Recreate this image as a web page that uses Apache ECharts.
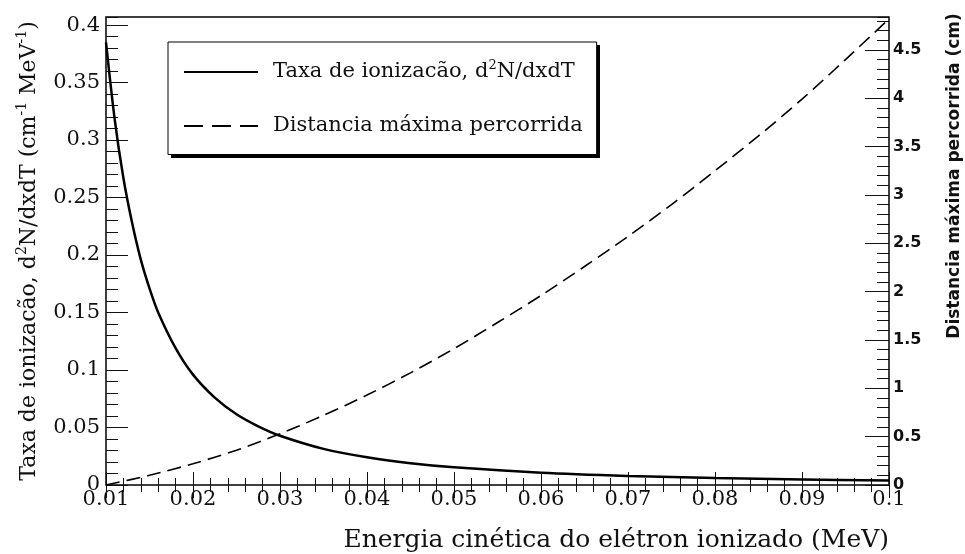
<!DOCTYPE html>
<html>
<head>
<meta charset="utf-8">
<title>Taxa de ionizacão</title>
<script src="https://cdn.jsdelivr.net/npm/echarts@6/dist/echarts.min.js"></script>
<style>
  html, body { margin: 0; padding: 0; background: #fff; }
  #chart { width: 965px; height: 554px; }
</style>
</head>
<body>
<div id="chart"></div>
<script>
// energia cinetica (MeV) e taxa de ionizacao d2N/dxdT (cm^-1 MeV^-1)
const rateEnergy = [0.010, 0.011, 0.012, 0.013, 0.014, 0.015, 0.016, 0.018, 0.020, 0.0225, 0.025, 0.0275,
  0.030, 0.035, 0.040, 0.045, 0.050, 0.060, 0.070, 0.080, 0.090, 0.100]
const rateValues = [0.385, 0.318, 0.267, 0.228, 0.196, 0.171, 0.150, 0.119, 0.096, 0.076, 0.0615, 0.051,
  0.0428, 0.0314, 0.0241, 0.019, 0.0154, 0.0107, 0.0079, 0.006, 0.0048, 0.0039]

// distancia maxima percorrida (cm)
const rangeEnergy = [0.010, 0.015, 0.020, 0.025, 0.030, 0.035, 0.040, 0.045, 0.050, 0.055, 0.060,
  0.065, 0.070, 0.075, 0.080, 0.085, 0.090, 0.095, 0.100]
const rangeValues = [0.0, 0.10, 0.22, 0.36, 0.53, 0.72, 0.93, 1.16, 1.41, 1.68, 1.96,
  2.26, 2.57, 2.90, 3.25, 3.61, 3.99, 4.40, 4.82]

const rateName = 'Taxa de ionizacão, d2N/dxdT'
const rangeName = 'Distancia máxima percorrida'

const serif = 'DejaVu Serif'
const sans = 'DejaVu Sans'
const ink = '#111'

const chart = echarts.init(document.getElementById('chart'))

const tickAxis = (extra) => Object.assign({
  type: 'value',
  axisLine: { show: false },
  splitLine: { show: false },
  axisTick: { inside: true, lineStyle: { color: ink, width: 1 } },
  axisLabel: { show: false }
}, extra)

const option = {
  backgroundColor: '#fff',
  animation: false,
  grid: {
    left: 106,
    right: 76,
    top: 17,
    bottom: 69,
    show: true,
    borderColor: '#000',
    borderWidth: 1.5,
    backgroundColor: 'transparent'
  },
  xAxis: [
    tickAxis({
      position: 'bottom',
      min: 0.01,
      max: 0.1,
      interval: 0.01,
      axisTick: { inside: true, length: 13, lineStyle: { color: ink } },
      minorTick: { show: true, splitNumber: 5, length: 7, lineStyle: { color: ink } },
      axisLabel: {
        show: true,
        margin: 4,
        fontFamily: serif,
        fontSize: 21,
        color: ink,
        hideOverlap: false
      }
    }),
    tickAxis({
      position: 'top',
      min: 0.01,
      max: 0.1,
      interval: 0.01,
      axisTick: { inside: true, length: 13, lineStyle: { color: ink } },
      minorTick: { show: true, splitNumber: 5, length: 7, lineStyle: { color: ink } }
    })
  ],
  yAxis: [
    // eixo esquerdo, marcas principais
    tickAxis({
      position: 'left',
      min: 0,
      max: 0.407,
      interval: 0.05,
      axisTick: { inside: true, length: 22, lineStyle: { color: ink } },
      axisLabel: {
        show: true,
        margin: 6,
        showMaxLabel: false,
        fontFamily: serif,
        fontSize: 21,
        color: ink
      }
    }),
    // eixo esquerdo, marcas menores
    tickAxis({
      position: 'left',
      min: 0,
      max: 0.407,
      interval: 0.01,
      axisTick: { inside: true, length: 12, lineStyle: { color: ink } }
    }),
    // eixo direito, marcas principais
    tickAxis({
      position: 'right',
      min: 0,
      max: 4.84,
      interval: 0.5,
      axisTick: { inside: true, length: 24, lineStyle: { color: ink } },
      axisLabel: {
        show: true,
        margin: 4,
        showMaxLabel: false,
        fontFamily: sans,
        fontWeight: 'bold',
        fontSize: 16,
        color: ink
      }
    }),
    // eixo direito, marcas menores
    tickAxis({
      position: 'right',
      min: 0,
      max: 4.84,
      interval: 0.1,
      axisTick: { inside: true, length: 12, lineStyle: { color: ink } }
    })
  ],
  legend: {
    left: 168,
    top: 42,
    z: 10,
    orient: 'vertical',
    padding: [17, 14, 18, 15],
    itemWidth: 74,
    itemHeight: 24,
    itemGap: 33,
    backgroundColor: '#fff',
    borderColor: '#000',
    borderWidth: 1,
    selectedMode: false,
    itemStyle: { opacity: 0 },
    data: [
      { name: rateName },
      { name: rangeName, lineStyle: { type: [19, 9] } }
    ],
    formatter: (name) => name === rateName
      ? '{t|Taxa de ionizacão, d}{s|2}{t|N/dxdT}'
      : '{t|' + name + '}',
    textStyle: {
      padding: [0, 0, 0, 10],
      color: ink,
      fontFamily: serif,
      fontSize: 21,
      rich: {
        t: { fontFamily: serif, fontSize: 21, color: ink, lineHeight: 26 },
        s: { fontFamily: serif, fontSize: 13, color: ink, verticalAlign: 'top', lineHeight: 26 }
      }
    }
  },
  graphic: [
    // sombra da legenda
    {
      type: 'rect',
      z: 1,
      shape: { x: 171, y: 45, width: 429, height: 113 },
      style: { fill: '#000' }
    },
    {
      type: 'text',
      x: 29,
      y: 251,
      rotation: Math.PI / 2,
      style: {
        text: '{t|Taxa de ionizacão, d}{s|2}{t|N/dxdT (cm}{s|-1}{t| MeV}{s|-1}{t|)}',
        align: 'center',
        verticalAlign: 'middle',
        rich: {
          t: { fontFamily: serif, fontSize: 22, fill: ink, lineHeight: 28 },
          s: { fontFamily: serif, fontSize: 14, fill: ink, verticalAlign: 'top', lineHeight: 28 }
        }
      }
    },
    {
      type: 'text',
      x: 889,
      y: 540,
      style: {
        text: 'Energia cinética do elétron ionizado (MeV)',
        fontFamily: serif,
        fontSize: 25,
        fill: ink,
        align: 'right',
        verticalAlign: 'middle'
      }
    },
    {
      type: 'text',
      x: 955,
      y: 176,
      rotation: Math.PI / 2,
      style: {
        text: 'Distancia máxima percorrida (cm)',
        fontFamily: sans,
        fontWeight: 'bold',
        fontSize: 17,
        fill: ink,
        align: 'center',
        verticalAlign: 'middle'
      }
    }
  ],
  series: [
    {
      name: rateName,
      type: 'line',
      xAxisIndex: 0,
      yAxisIndex: 0,
      smooth: 0.3,
      symbol: 'none',
      data: rateEnergy.map((e, i) => [e, rateValues[i]]),
      lineStyle: { color: '#000', width: 2.5 },
      itemStyle: { color: '#000' }
    },
    {
      name: rangeName,
      type: 'line',
      xAxisIndex: 0,
      yAxisIndex: 2,
      smooth: 0.3,
      symbol: 'none',
      data: rangeEnergy.map((e, i) => [e, rangeValues[i]]),
      lineStyle: { color: '#000', width: 1.6, type: [14, 7] },
      itemStyle: { color: '#000' }
    }
  ]
}

chart.setOption(option)

window.addEventListener('resize', () => {
  chart.resize()
})
</script>
</body>
</html>
